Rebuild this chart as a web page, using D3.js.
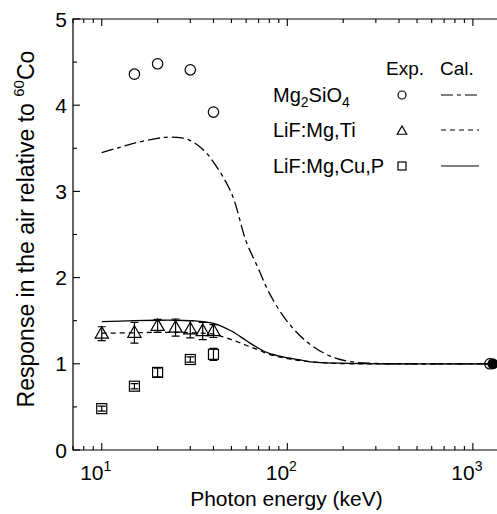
<!DOCTYPE html>
<html>
<head>
<meta charset="utf-8">
<script src="https://cdn.jsdelivr.net/npm/d3@7/dist/d3.min.js"></script>
<style>
  body { margin: 0; background: #fff; }
  svg text { font-family: Arial, "Liberation Sans", Helvetica, sans-serif; fill: #000; }
</style>
</head>
<body>
<div id="chart"></div>
<script>
// experimental points
const mgEnergy = [15, 20, 30, 40]
const mgResp = [4.36, 4.48, 4.41, 3.92]

const tiEnergy = [10, 15, 20, 25, 30, 35, 40]
const tiResp = [1.35, 1.36, 1.44, 1.42, 1.40, 1.38, 1.38]
const tiErr = [0.08, 0.12, 0.075, 0.1, 0.1, 0.1, 0.075]

const cuEnergy = [10, 15, 20, 30, 40]
const cuResp = [0.48, 0.74, 0.9, 1.05, 1.11]
const cuErr = [0.03, 0.03, 0.05, 0.03, 0.07]

// 60Co reference
const coEnergy = [1250]
const coResp = [1.0]

// calculated curves
const mgCalcE = [10, 12, 15, 20, 23, 27, 30, 35, 40, 50, 60, 70, 80, 100, 130, 170, 220, 300, 500, 1000, 1250]
const mgCalcR = [3.45, 3.5, 3.56, 3.615, 3.63, 3.62, 3.59, 3.49, 3.34, 2.98, 2.42, 2.1, 1.82, 1.49, 1.24, 1.09, 1.025, 1.005, 1.0, 1.0, 1.0]

const tiCalcE = [10, 15, 20, 25, 30, 35, 40, 50, 60, 70, 80, 100, 130, 170, 220, 300, 1250]
const tiCalcR = [1.355, 1.36, 1.365, 1.365, 1.36, 1.355, 1.345, 1.28, 1.215, 1.16, 1.11, 1.06, 1.025, 1.008, 1.0, 1.0, 1.0]

const cuCalcE = [10, 15, 20, 25, 30, 35, 40, 50, 60, 70, 80, 95, 117, 144, 217, 300, 1250]
const cuCalcR = [1.49, 1.5, 1.505, 1.505, 1.5, 1.49, 1.47, 1.38, 1.27, 1.18, 1.12, 1.08, 1.045, 1.017, 1.005, 1.0, 1.0]

const yTicks = [0, 1, 2, 3, 4, 5]
const xMajor = [10, 100, 1000]
const xMajorExp = ['1', '2', '3']

const width = 497
const height = 514
const margin = { left: 73, top: 19, right: -3, bottom: 64 }

const svg = d3.select('#chart').append('svg')
  .attr('width', width)
  .attr('height', height)

const x = d3.scaleLog().domain([7, 1400]).range([margin.left, width - margin.right])
const y = d3.scaleLinear().domain([0, 5]).range([height - margin.bottom, margin.top])

const x0 = x.range()[0], x1 = x.range()[1]
const y0 = y.range()[0], y1 = y.range()[1]

// frame (left, bottom, top; right edge falls outside the window)
svg.append('path')
  .attr('d', `M${x1},${y1}H${x0}V${y0}H${x1}`)
  .attr('fill', 'none')
  .attr('stroke', '#000')
  .attr('stroke-width', 1.2)

// log ticks for x, on bottom and top, pointing inwards
const xMinor = []
for (let dec = 1; dec <= 1000; dec *= 10) {
  for (let m = 1; m < 10; m++) {
    const v = dec * m
    if (v >= 7 && v <= 1400) xMinor.push(v)
  }
}
xMinor.forEach(function (v) {
  const major = xMajor.includes(v)
  const len = major ? 7 : 4
  svg.append('line')
    .attr('x1', x(v)).attr('x2', x(v))
    .attr('y1', y0).attr('y2', y0 - len)
    .attr('stroke', '#000').attr('stroke-width', 1.1)
  svg.append('line')
    .attr('x1', x(v)).attr('x2', x(v))
    .attr('y1', y1).attr('y2', y1 + len)
    .attr('stroke', '#000').attr('stroke-width', 1.1)
})

xMajor.forEach(function (v, i) {
  const t = svg.append('text')
    .attr('x', x(v) - 6)
    .attr('y', y0 + 30)
    .attr('text-anchor', 'middle')
    .attr('font-size', 21)
  t.append('tspan').text('10')
  t.append('tspan').attr('dy', -9).attr('font-size', 14).text(xMajorExp[i])
})

// y ticks, major and half-unit minor
d3.range(0, 5.01, 0.5).forEach(function (v) {
  const major = Number.isInteger(v)
  svg.append('line')
    .attr('x1', x0).attr('x2', x0 + (major ? 7 : 4))
    .attr('y1', y(v)).attr('y2', y(v))
    .attr('stroke', '#000').attr('stroke-width', 1.1)
})
yTicks.forEach(function (v) {
  svg.append('text')
    .attr('x', x0 - 6)
    .attr('y', y(v) + 7.5)
    .attr('text-anchor', 'end')
    .attr('font-size', 21)
    .text(v)
})

// axis titles
svg.append('text')
  .attr('x', (x0 + x1) / 2)
  .attr('y', 506)
  .attr('text-anchor', 'middle')
  .attr('font-size', 21)
  .text('Photon energy (keV)')

const yTitle = svg.append('text')
  .attr('transform', 'translate(34, 229) rotate(-90)')
  .attr('text-anchor', 'middle')
  .attr('font-size', 23)
yTitle.append('tspan').text('Response in the air relative to ')
yTitle.append('tspan').attr('dy', -10).attr('font-size', 15).text('60')
yTitle.append('tspan').attr('dy', 10).text('Co')

// curves
const line = d3.line()
  .x(d => x(d[0]))
  .y(d => y(d[1]))
  .curve(d3.curveCatmullRom.alpha(0.5))

const curves = [
  { e: mgCalcE, r: mgCalcR, dash: '12,4,4,4' },
  { e: tiCalcE, r: tiCalcR, dash: '5,4' },
  { e: cuCalcE, r: cuCalcR, dash: null },
]
curves.forEach(function (c) {
  svg.append('path')
    .datum(c.e.map((e, i) => [e, c.r[i]]))
    .attr('d', line)
    .attr('fill', 'none')
    .attr('stroke', '#000')
    .attr('stroke-width', 1.3)
    .attr('stroke-dasharray', c.dash)
})

// error bars
function errorBars(es, rs, errs) {
  es.forEach(function (e, i) {
    const cx = x(e)
    const lo = y(rs[i] - errs[i])
    const hi = y(rs[i] + errs[i])
    svg.append('path')
      .attr('d', `M${cx},${lo}V${hi}M${cx - 4},${lo}H${cx + 4}M${cx - 4},${hi}H${cx + 4}`)
      .attr('fill', 'none')
      .attr('stroke', '#000')
      .attr('stroke-width', 1.2)
  })
}
errorBars(tiEnergy, tiResp, tiErr)
errorBars(cuEnergy, cuResp, cuErr)

function triangle(g, cx, cy, s) {
  g.append('path')
    .attr('d', `M${cx},${cy - s}L${cx + s * 0.95},${cy + s * 0.65}L${cx - s * 0.95},${cy + s * 0.65}Z`)
    .attr('fill', 'none').attr('stroke', '#000').attr('stroke-width', 1.2)
}
function square(g, cx, cy, s) {
  g.append('rect')
    .attr('x', cx - s).attr('y', cy - s)
    .attr('width', 2 * s).attr('height', 2 * s)
    .attr('fill', 'none').attr('stroke', '#000').attr('stroke-width', 1.2)
}
function circle(g, cx, cy, r) {
  g.append('circle')
    .attr('cx', cx).attr('cy', cy).attr('r', r)
    .attr('fill', 'none').attr('stroke', '#000').attr('stroke-width', 1.2)
}

mgEnergy.forEach((e, i) => circle(svg, x(e), y(mgResp[i]), 5.2))
tiEnergy.forEach((e, i) => triangle(svg, x(e), y(tiResp[i]), 7))
cuEnergy.forEach((e, i) => square(svg, x(e), y(cuResp[i]), 5))

coEnergy.forEach(function (e, i) {
  svg.append('circle')
    .attr('cx', x(e) + 2).attr('cy', y(coResp[i])).attr('r', 5.5)
    .attr('fill', '#000')
  circle(svg, x(e) - 1, y(coResp[i]), 5.2)
})

// legend
const legendNames = [
  [['Mg', 0], ['2', 1], ['SiO', 0], ['4', 1]],
  [['LiF:Mg,Ti', 0]],
  [['LiF:Mg,Cu,P', 0]],
]
const legendDash = ['12,4,4,4', '5,4', null]
const legendRowY = [95, 130, 166]

svg.append('text').attr('x', 386).attr('y', 75).attr('font-size', 19).text('Exp.')
svg.append('text').attr('x', 440).attr('y', 75).attr('font-size', 19).text('Cal.')

legendNames.forEach(function (parts, i) {
  const ly = legendRowY[i]
  const t = svg.append('text')
    .attr('x', 273)
    .attr('y', ly + 7)
    .attr('font-size', 20)
  let sub = 0
  parts.forEach(function (p) {
    const dy = p[1] ? 5 - sub : -sub
    sub = p[1] ? 5 : 0
    t.append('tspan')
      .attr('dy', dy)
      .attr('font-size', p[1] ? 14 : 20)
      .text(p[0])
  })
  if (i === 0) circle(svg, 402, ly, 4)
  if (i === 1) triangle(svg, 402, ly + 1, 5)
  if (i === 2) square(svg, 402, ly, 4)
  svg.append('line')
    .attr('x1', 441).attr('x2', 479)
    .attr('y1', ly).attr('y2', ly)
    .attr('stroke', '#000').attr('stroke-width', 1.2)
    .attr('stroke-dasharray', legendDash[i])
})
</script>
</body>
</html>
